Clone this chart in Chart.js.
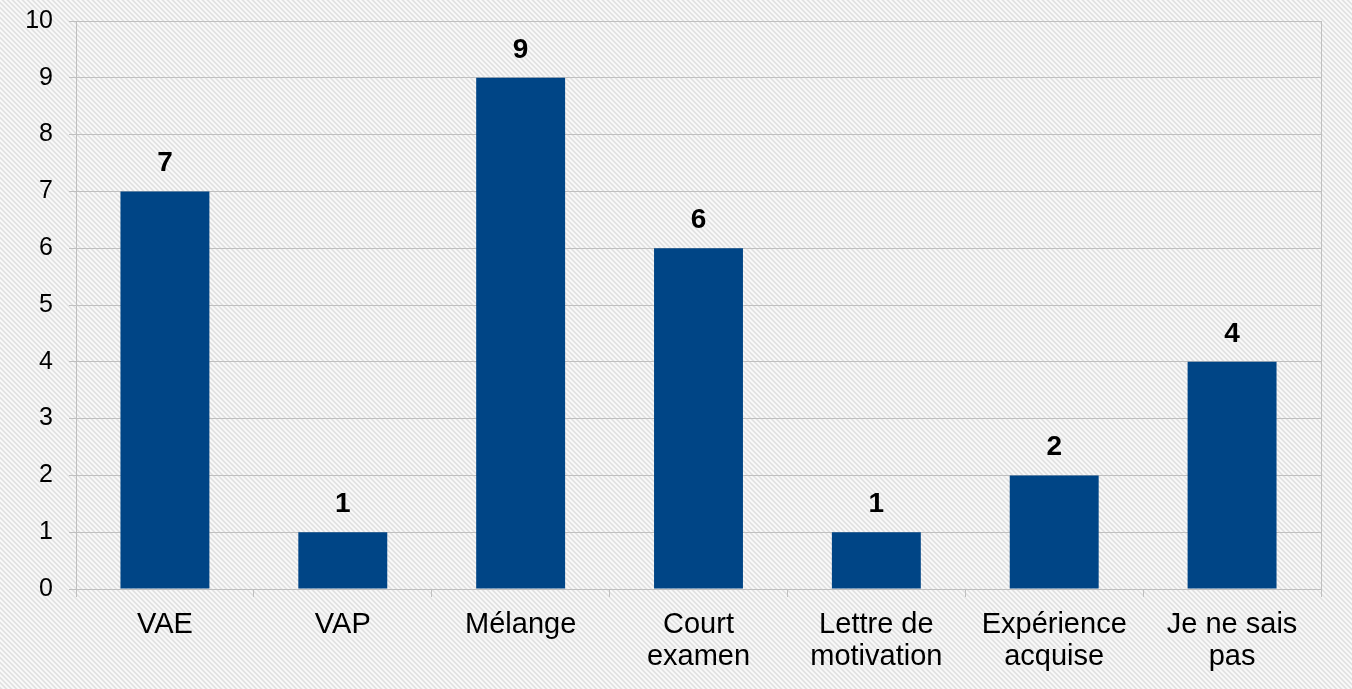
<!DOCTYPE html>
<html>
<head>
<meta charset="utf-8">
<script src="https://cdn.jsdelivr.net/npm/chart.js@4/dist/chart.umd.min.js"></script>
<style>
	html, body { margin: 0; padding: 0; background: #e8e8e8; }
	#wrap { width: 1352px; height: 689px; position: relative; }
</style>
</head>
<body>
<div id="wrap"><canvas id="chart" width="1352" height="689"></canvas></div>
<script>
const categories = [
	'VAE',
	'VAP',
	'Mélange',
	[ 'Court', 'examen' ],
	[ 'Lettre de', 'motivation' ],
	[ 'Expérience', 'acquise' ],
	[ 'Je ne sais', 'pas' ],
];
const counts = [ 7, 1, 9, 6, 1, 2, 4 ];
const yTicks = [ 0, 1, 2, 3, 4, 5, 6, 7, 8, 9, 10 ];

const FONT = "'Liberation Sans', Arial, sans-serif";
const BAR_COLOR = '#004586';
const GRID_COLOR = '#bfbfbf';

// diagonal hatch like the office chart background
function hatchPattern( ctx ) {
	const tile = document.createElement( 'canvas' );
	tile.width = 5;
	tile.height = 5;
	const t = tile.getContext( '2d' );
	t.fillStyle = '#e2e2e2';
	t.fillRect( 0, 0, 5, 5 );
	t.strokeStyle = '#fbfbfb';
	t.lineWidth = 1.6;
	t.beginPath();
	t.moveTo( -1, -1 );
	t.lineTo( 6, 6 );
	t.moveTo( -1, 4 );
	t.lineTo( 1, 6 );
	t.moveTo( 4, -1 );
	t.lineTo( 6, 1 );
	t.stroke();
	return ctx.createPattern( tile, 'repeat' );
}

const background = {
	id: 'background',
	beforeDraw( chart ) {
		const ctx = chart.ctx;
		ctx.save();
		ctx.fillStyle = hatchPattern( ctx );
		ctx.fillRect( 0, 0, chart.width, chart.height );
		ctx.restore();
	},
};

const frameAndLabels = {
	id: 'frameAndLabels',
	afterDatasetsDraw( chart ) {
		const ctx = chart.ctx;
		const area = chart.chartArea;
		ctx.save();
		// right border of the plot area
		ctx.strokeStyle = GRID_COLOR;
		ctx.lineWidth = 1;
		ctx.beginPath();
		ctx.moveTo( Math.round( area.right ) + 0.5, area.top );
		ctx.lineTo( Math.round( area.right ) + 0.5, area.bottom + 8 );
		ctx.stroke();

		// value labels above bars
		ctx.fillStyle = '#000';
		ctx.font = 'bold 28px ' + FONT;
		ctx.textAlign = 'center';
		ctx.textBaseline = 'bottom';
		chart.getDatasetMeta( 0 ).data.forEach( ( bar, i ) => {
			ctx.fillText( String( counts[ i ] ), bar.x, bar.y - 14 );
		} );
		ctx.restore();
	},
};

new Chart( document.getElementById( 'chart' ), {
	type: 'bar',
	data: {
		labels: categories,
		datasets: [
			{
				data: counts,
				backgroundColor: BAR_COLOR,
				borderWidth: 0,
				categoryPercentage: 1,
				barPercentage: 0.5,
			},
		],
	},
	options: {
		responsive: false,
		animation: false,
		layout: { padding: { top: 21, right: 31, left: 0, bottom: 0 } },
		plugins: {
			legend: { display: false },
			tooltip: { enabled: false },
		},
		scales: {
			y: {
				min: 0,
				max: 10,
				afterFit( scale ) {
					scale.width = 76;
					scale.paddingTop = 0;
					scale.paddingBottom = 0;
				},
				afterBuildTicks( scale ) {
					scale.ticks = yTicks.map( ( v ) => ( { value: v } ) );
				},
				ticks: {
					color: '#000',
					padding: 16,
					font: { family: FONT, size: 25, lineHeight: 1 },
				},
				grid: {
					color: GRID_COLOR,
					lineWidth: 1,
					tickLength: 7,
				},
				border: { color: GRID_COLOR, width: 1 },
			},
			x: {
				afterFit( scale ) {
					scale.height = 100;
					scale.paddingLeft = 0;
					scale.paddingRight = 0;
				},
				ticks: {
					color: '#000',
					padding: 12,
					maxRotation: 0,
					autoSkip: false,
					font: { family: FONT, size: 29, lineHeight: 1.1 },
				},
				grid: {
					offset: true,
					drawOnChartArea: false,
					color: GRID_COLOR,
					tickLength: 8,
				},
				border: { color: GRID_COLOR, width: 1 },
			},
		},
	},
	plugins: [ background, frameAndLabels ],
} );
</script>
</body>
</html>
